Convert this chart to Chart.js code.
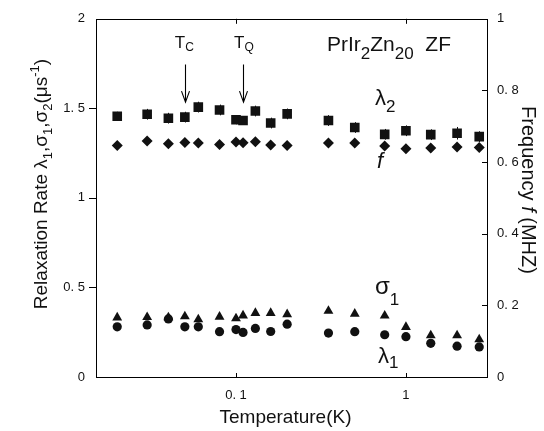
<!DOCTYPE html>
<html>
<head>
<meta charset="utf-8">
<script src="https://cdn.jsdelivr.net/npm/chart.js@4.4.1/dist/chart.umd.min.js"></script>
<style>
html,body{margin:0;padding:0;background:#fff;}
canvas{display:block;}
</style>
</head>
<body>
<canvas id="c" width="544" height="431"></canvas>
<script>
// ---- data ----
const temperatures = [0.02, 0.03, 0.04, 0.05, 0.06, 0.08, 0.10, 0.11, 0.13, 0.16, 0.20, 0.35, 0.50, 0.75, 1.0, 1.4, 2.0, 2.7];
const lambda2      = [1.456, 1.467, 1.445, 1.451, 1.507, 1.491, 1.436, 1.432, 1.485, 1.418, 1.469, 1.432, 1.393, 1.355, 1.375, 1.353, 1.361, 1.342];
const lambda2Err   = [0.025, 0.03, 0.03, 0.03, 0.03, 0.03, 0.025, 0.025, 0.03, 0.03, 0.03, 0.03, 0.03, 0.03, 0.03, 0.03, 0.035, 0.03];
const frequency    = [0.646, 0.659, 0.651, 0.655, 0.653, 0.649, 0.656, 0.654, 0.657, 0.648, 0.646, 0.653, 0.653, 0.645, 0.637, 0.639, 0.642, 0.641];
const sigma1       = [0.332, 0.334, 0.333, 0.338, 0.322, 0.336, 0.327, 0.343, 0.357, 0.357, 0.350, 0.369, 0.353, 0.342, 0.279, 0.232, 0.232, 0.210];
const lambda1      = [0.280, 0.291, 0.324, 0.280, 0.280, 0.253, 0.265, 0.249, 0.271, 0.254, 0.295, 0.245, 0.253, 0.236, 0.225, 0.188, 0.172, 0.168];

const xTickValues = [0.1, 1];
const xTickLabels = ['0. 1', '1'];
const yLeftTickValues = [0, 0.5, 1, 1.5, 2];
const yLeftTickLabels = ['0', '0. 5', '1', '1. 5', '2'];
const yRightTickValues = [0, 0.2, 0.4, 0.6, 0.8, 1];
const yRightTickLabels = ['0', '0. 2', '0. 4', '0. 6', '0. 8', '1'];
const transitionTemps = [0.05, 0.11];   // T_C, T_Q

// ---- helpers ----
const FAM = '"Liberation Sans", Arial, Helvetica, sans-serif';
const INK = '#111';
function fnt(size, italic) { return (italic ? 'italic ' : '') + size + 'px ' + FAM; }
// runs: [text, size, dy, italic]
function drawRuns(ctx, runs, x, y, rot, align) {
  ctx.save();
  ctx.translate(x, y);
  ctx.rotate(rot || 0);
  ctx.textAlign = 'left';
  ctx.textBaseline = 'alphabetic';
  ctx.fillStyle = INK;
  let w = 0;
  for (const r of runs) { ctx.font = fnt(r[1], r[3]); w += ctx.measureText(r[0]).width; }
  let cx = align === 'center' ? -w / 2 : (align === 'right' ? -w : 0);
  for (const r of runs) {
    ctx.font = fnt(r[1], r[3]);
    ctx.fillText(r[0], cx, r[2] || 0);
    cx += ctx.measureText(r[0]).width;
  }
  ctx.restore();
}
function pts(ys) { return temperatures.map((t, i) => ({ x: t, y: ys[i] })); }

const decorPlugin = {
  id: 'decor',
  afterDatasetsDraw(chart) {
    const ctx = chart.ctx;
    const a = chart.chartArea;
    const xs = chart.scales.x, yl = chart.scales.y, yr = chart.scales.y2;
    ctx.save();
    // error bars on lambda2
    ctx.strokeStyle = INK; ctx.lineWidth = 1;
    temperatures.forEach((t, i) => {
      const px = Math.round(xs.getPixelForValue(t)) + 0.5;
      ctx.beginPath();
      ctx.moveTo(px, yl.getPixelForValue(lambda2[i] + lambda2Err[i]));
      ctx.lineTo(px, yl.getPixelForValue(lambda2[i] - lambda2Err[i]));
      ctx.stroke();
    });
    // frame
    ctx.strokeStyle = '#000'; ctx.lineWidth = 1;
    ctx.strokeRect(Math.round(a.left) + 0.5, Math.round(a.top) + 0.5, Math.round(a.right - a.left), Math.round(a.bottom - a.top));
    // ticks
    ctx.beginPath();
    yLeftTickValues.forEach(v => {
      if (v <= yl.min || v >= yl.max) return;
      const py = Math.round(yl.getPixelForValue(v)) + 0.5;
      ctx.moveTo(a.left - 7, py); ctx.lineTo(a.left, py);
    });
    yRightTickValues.forEach(v => {
      if (v <= yr.min || v >= yr.max) return;
      const py = Math.round(yr.getPixelForValue(v)) + 0.5;
      ctx.moveTo(a.right - 5, py); ctx.lineTo(a.right, py);
    });
    xTickValues.forEach(v => {
      const px = Math.round(xs.getPixelForValue(v)) + 0.5;
      ctx.moveTo(px, a.bottom); ctx.lineTo(px, a.bottom - 4);
      ctx.moveTo(px, a.top); ctx.lineTo(px, a.top + 5);
    });
    ctx.stroke();
    // arrows at T_C and T_Q
    ctx.lineWidth = 1.1;
    transitionTemps.forEach(t => {
      const px = Math.round(xs.getPixelForValue(t)) + 0.5;
      const y0 = yl.getPixelForValue(1.745), y1 = yl.getPixelForValue(1.535);
      ctx.beginPath();
      ctx.moveTo(px, y0); ctx.lineTo(px, y1);
      ctx.moveTo(px - 4, y1 - 11); ctx.lineTo(px, y1); ctx.lineTo(px + 4, y1 - 11);
      ctx.stroke();
    });
    ctx.restore();

    // texts
    const xc = t => xs.getPixelForValue(t);
    drawRuns(ctx, [['T', 17, 0], ['C', 12, 3]], xc(transitionTemps[0]) - 10, 48, 0, 'left');
    drawRuns(ctx, [['T', 17, 0], ['Q', 12, 3]], xc(transitionTemps[1]) - 9, 48, 0, 'left');
    drawRuns(ctx, [['PrIr', 21, 0], ['2', 17, 8], ['Zn', 21, 0], ['20', 17, 8], ['  ZF', 21, 0]], 327, 51, 0, 'left');
    drawRuns(ctx, [['λ', 22, 0], ['2', 17, 7]], 375, 105, 0, 'left');
    drawRuns(ctx, [['f', 22, 0, true]], 377, 168, 0, 'left');
    drawRuns(ctx, [['σ', 24, 0], ['1', 17, 11]], 375, 294, 0, 'left');
    drawRuns(ctx, [['λ', 22, 0], ['1', 17, 5]], 378, 363, 0, 'left');
    // axis titles
    drawRuns(ctx, [['Temperature(K)', 19, 0]], (a.left + a.right) / 2 - 6, 423, 0, 'center');
    drawRuns(ctx, [['Relaxation Rate λ', 19, 0], ['1', 13, 5], [',σ', 19, 0], ['1', 13, 5], [',σ', 19, 0], ['2', 13, 5], ['(μs', 19, 0], ['-1', 13, -8], [')', 19, 0]], 47, 184, -Math.PI / 2, 'center');
    drawRuns(ctx, [['Frequency ', 20, 0], ['f', 20, 0, true], [' (MHZ)', 20, 0]], 522, 190, Math.PI / 2, 'center');
  }
};

const common = { showLine: false, pointBackgroundColor: INK, pointBorderColor: INK, pointBorderWidth: 0, pointHoverRadius: 0 };

new Chart(document.getElementById('c'), {
  type: 'scatter',
  data: {
    datasets: [
      Object.assign({ label: 'λ2', data: pts(lambda2), pointStyle: 'rect', pointRadius: 6.8, yAxisID: 'y' }, common),
      Object.assign({ label: 'f', data: pts(frequency), pointStyle: 'rectRot', pointRadius: 5.5, yAxisID: 'y2' }, common),
      Object.assign({ label: 'σ1', data: pts(sigma1), pointStyle: 'triangle', pointRadius: 5.7, yAxisID: 'y' }, common),
      Object.assign({ label: 'λ1', data: pts(lambda1), pointStyle: 'circle', pointRadius: 4.6, yAxisID: 'y' }, common)
    ]
  },
  options: {
    responsive: false,
    animation: false,
    devicePixelRatio: 1,
    layout: { padding: { top: 13, left: 0, right: 0, bottom: 0 } },
    plugins: { legend: { display: false }, tooltip: { enabled: false } },
    scales: {
      x: {
        type: 'logarithmic', position: 'bottom', min: 0.015, max: 3.0,
        grid: { display: false, drawTicks: false }, border: { display: false },
        afterBuildTicks: s => { s.ticks = xTickValues.map(v => ({ value: v })); },
        afterFit: s => { s.height = 54; },
        ticks: {
          autoSkip: false, maxRotation: 0, padding: 11, color: INK,
          font: { family: FAM, size: 13 },
          callback: v => { const i = xTickValues.findIndex(t => Math.abs(t - v) < 1e-9); return i >= 0 ? xTickLabels[i] : ''; }
        }
      },
      y: {
        position: 'left', min: 0, max: 2,
        grid: { display: false, drawTicks: false }, border: { display: false },
        afterBuildTicks: s => { s.ticks = yLeftTickValues.map(v => ({ value: v })); },
        afterFit: s => { s.width = 96; },
        ticks: {
          padding: 11, color: INK, font: { family: FAM, size: 13 },
          callback: v => { const i = yLeftTickValues.findIndex(t => Math.abs(t - v) < 1e-9); return i >= 0 ? yLeftTickLabels[i] : ''; }
        }
      },
      y2: {
        position: 'right', min: 0, max: 1,
        grid: { display: false, drawTicks: false }, border: { display: false },
        afterBuildTicks: s => { s.ticks = yRightTickValues.map(v => ({ value: v })); },
        afterFit: s => { s.width = 57; },
        ticks: {
          padding: 10, color: INK, font: { family: FAM, size: 13 },
          callback: v => { const i = yRightTickValues.findIndex(t => Math.abs(t - v) < 1e-9); return i >= 0 ? yRightTickLabels[i] : ''; }
        }
      }
    }
  },
  plugins: [decorPlugin]
});
</script>
</body>
</html>
